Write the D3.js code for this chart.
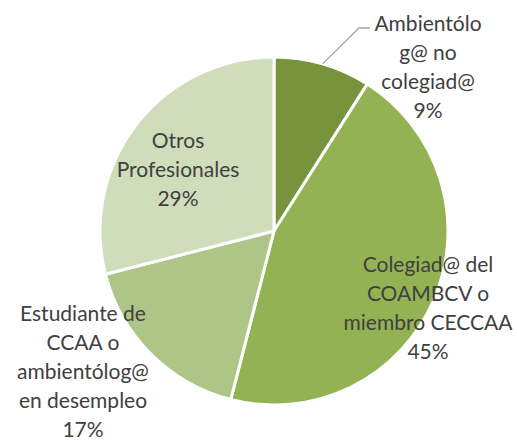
<!DOCTYPE html>
<html>
<head>
<meta charset="utf-8">
<script src="https://cdn.jsdelivr.net/npm/d3@7"></script>
<style>
  html, body { margin: 0; padding: 0; background: #fff; }
  svg { display: block; }
</style>
</head>
<body>
<svg id="chart" width="517" height="441"></svg>
<script>
// Data
const categories = [
  "Ambientólogo no colegiad@",
  "Colegiad@ del COAMBCV o miembro CECCAA",
  "Estudiante de CCAA o ambientólog@ en desempleo",
  "Otros Profesionales"
];
const values = [9, 45, 17, 29];
const labelLines = [
  ["Ambientólo", "g@ no", "colegiad@", "9%"],
  ["Colegiad@ del", "COAMBCV o", "miembro CECCAA", "45%"],
  ["Estudiante de", "CCAA o", "ambientólog@", "en desempleo", "17%"],
  ["Otros", "Profesionales", "29%"]
];
const colors = ["#77933C", "#92B254", "#ADC687", "#D0DDBA"];

// Layout
const W = 517, H = 441;
const cx = 274, cy = 231, R = 174;
const fontSize = 21, lineH = 29;
const labelPos = [ [428, 23.5], [428, 264], [83, 313], [178, 140] ]; // first-line cap centers

const svg = d3.select("#chart");
const g = svg.append("g").attr("transform", `translate(${cx},${cy})`);

const pie = d3.pie().sort(null).value(d => d)(values);
const arc = d3.arc().innerRadius(0).outerRadius(R);

g.selectAll("path.slice")
  .data(pie)
  .join("path")
  .attr("class", "slice")
  .attr("d", arc)
  .attr("fill", (d, i) => colors[i])
  .attr("stroke", "#fff")
  .attr("stroke-width", 3)
  .attr("stroke-linejoin", "round");

// leader line for the first slice
const a0 = (pie[0].startAngle + pie[0].endAngle) / 2;
const p0 = [cx + Math.sin(a0) * R, cy - Math.cos(a0) * R];
svg.append("polyline")
  .attr("points", `${p0[0]},${p0[1]} 359,28 370,28`)
  .attr("fill", "none")
  .attr("stroke", "#A6A6A6")
  .attr("stroke-width", 1.3);

const capH = fontSize * 0.72;
labelLines.forEach((lines, i) => {
  const t = svg.append("text")
    .attr("text-anchor", "middle")
    .attr("font-family", "Lato, 'Open Sans', sans-serif")
    .attr("font-size", fontSize)
    .attr("fill", "#404040");
  lines.forEach((ln, j) => {
    t.append("tspan")
      .attr("x", labelPos[i][0])
      .attr("y", labelPos[i][1] + capH / 2 + j * lineH)
      .text(ln);
  });
});
</script>
</body>
</html>
